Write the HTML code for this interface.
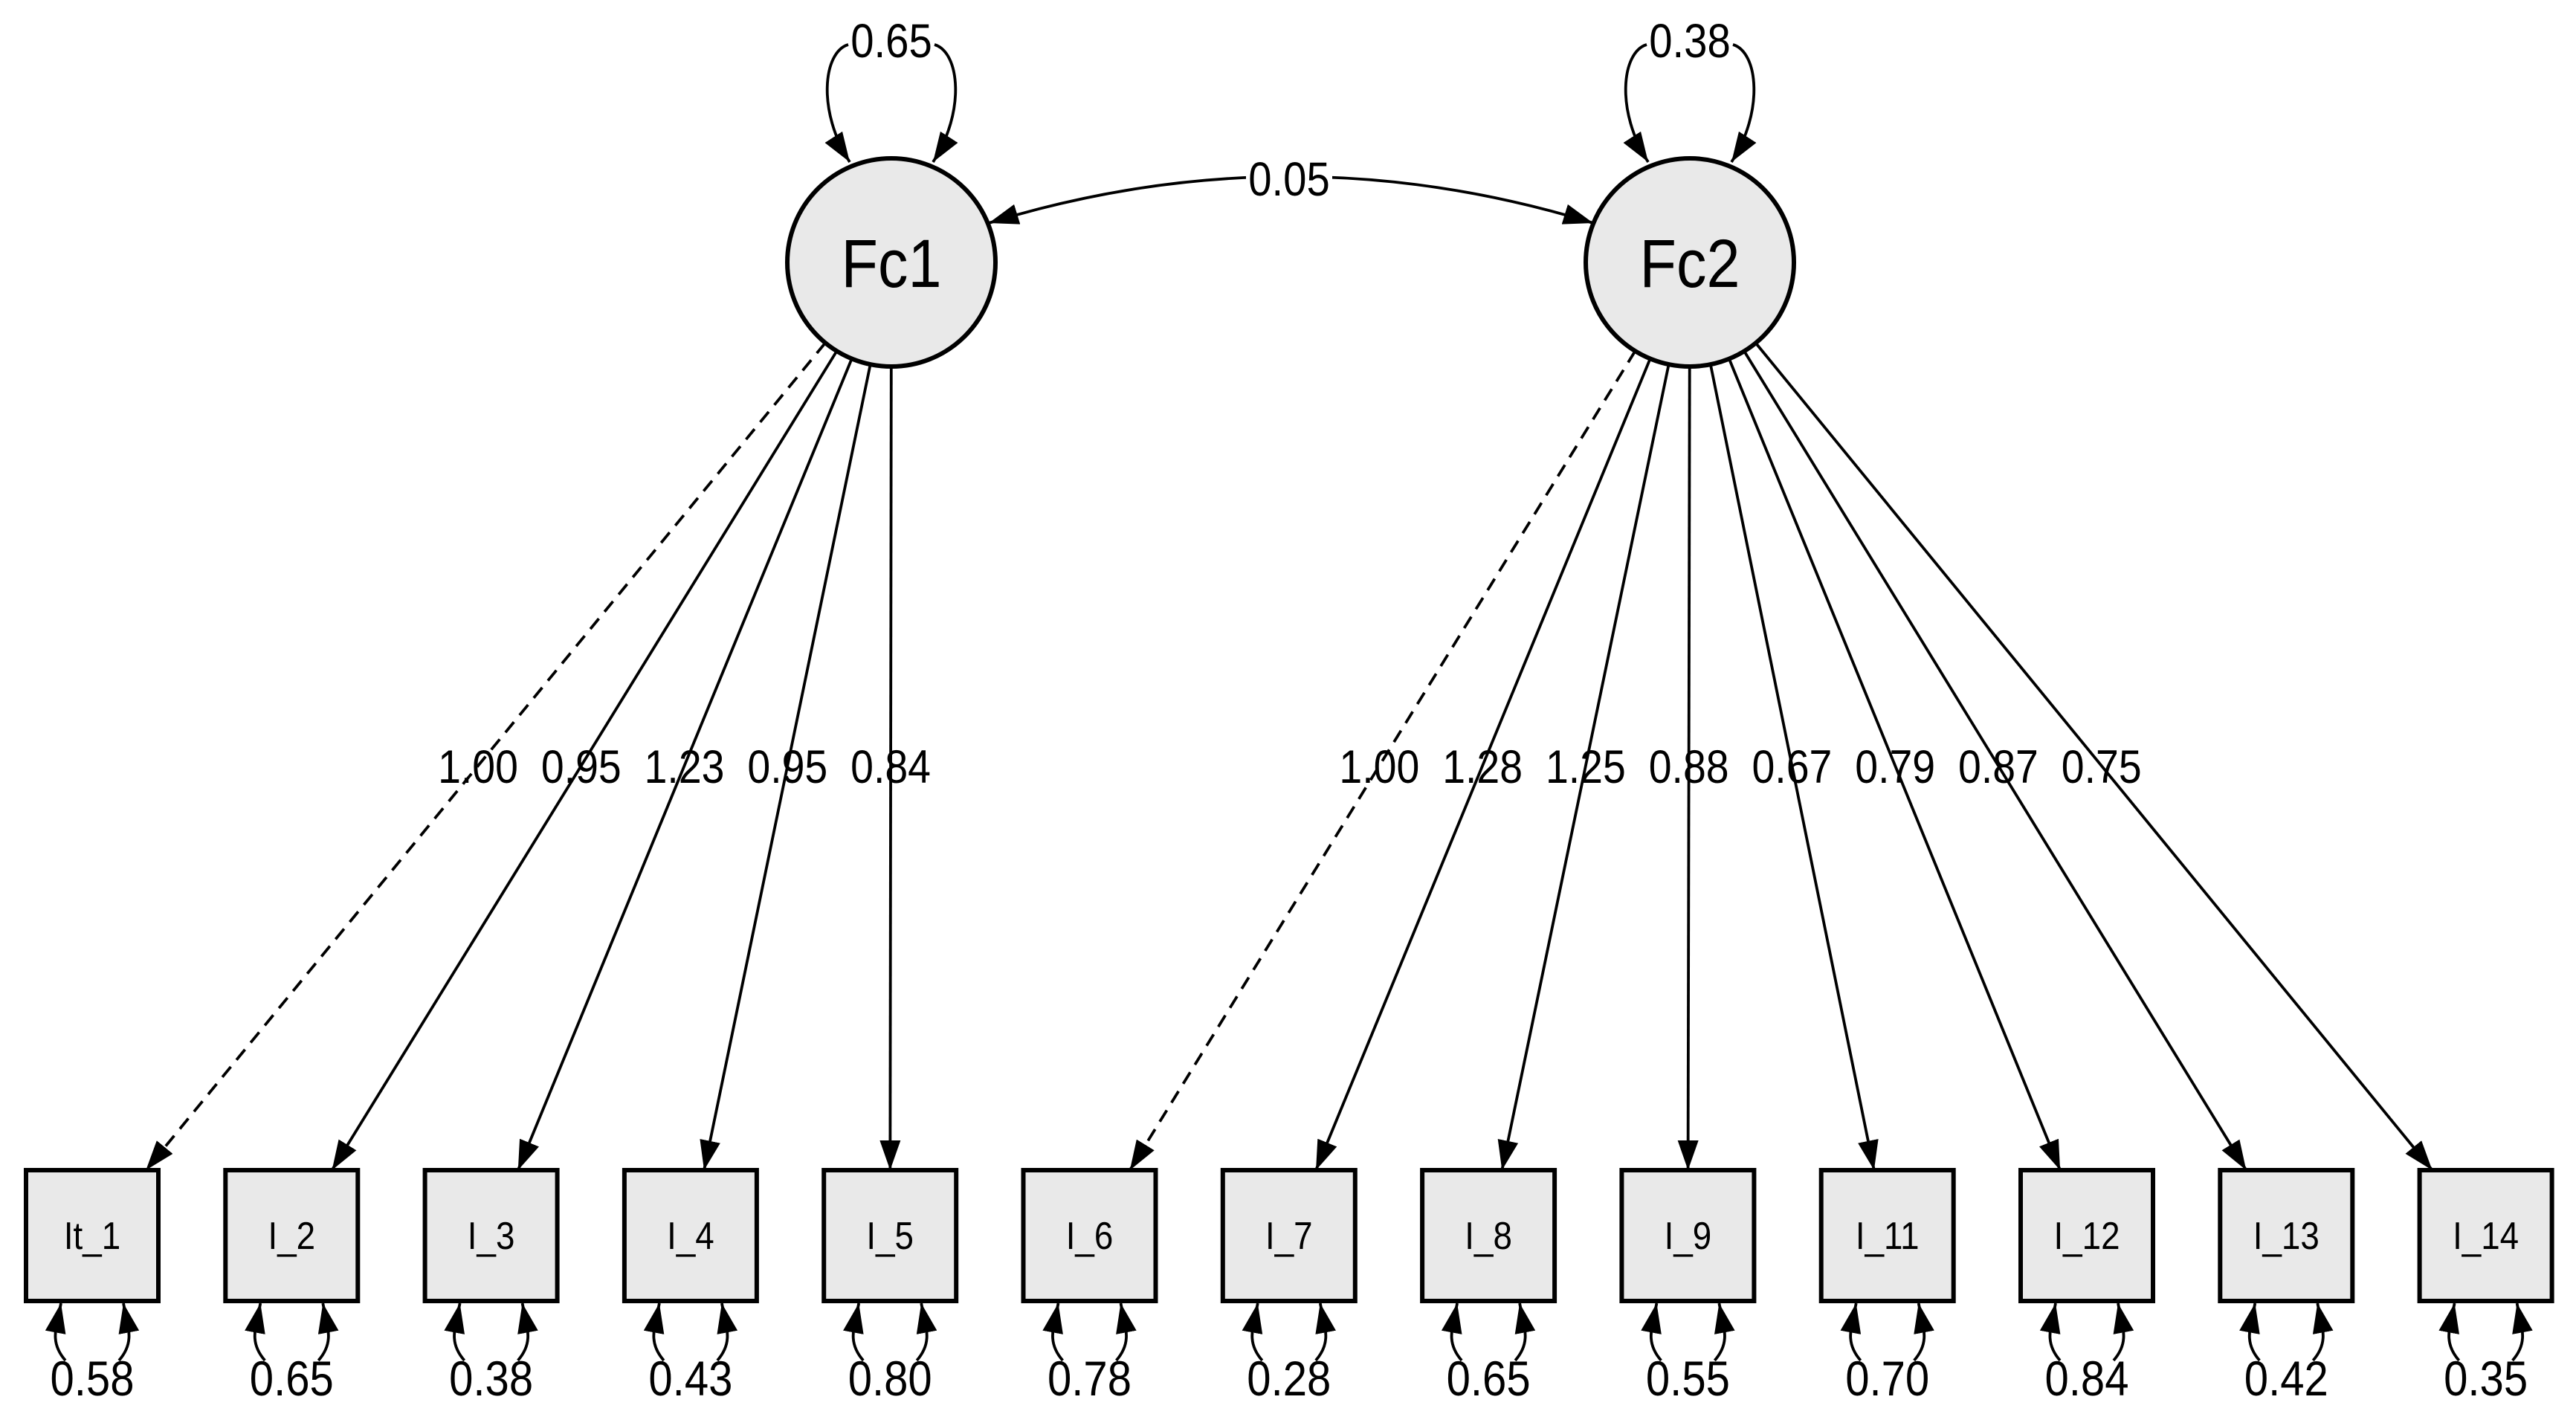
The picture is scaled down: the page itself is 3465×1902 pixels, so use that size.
<!DOCTYPE html>
<html><head><meta charset="utf-8"><style>
html,body{margin:0;padding:0;background:#fff;}
svg{display:block;}
text{font-family:"Liberation Sans",Arial,sans-serif;fill:#000;}
</style></head><body>
<svg id="s" width="3465" height="1902" viewBox="0 0 3465 1902" xmlns="http://www.w3.org/2000/svg">
<defs>
<marker id="a" viewBox="0 0 40 28" refX="40" refY="14" markerWidth="40" markerHeight="28" markerUnits="userSpaceOnUse" orient="auto-start-reverse">
<path d="M0,0 L40,14 L0,28 z" fill="#000"/>
</marker>
</defs>
<g id="g"></g>
</svg>
<script>
var NS="http://www.w3.org/2000/svg",g=document.getElementById('g');
function el(t,a,txt){var e=document.createElementNS(NS,t);for(var k in a)e.setAttribute(k,a[k]);if(txt!==undefined)e.textContent=txt;g.appendChild(e);return e;}
var F=[{x:1199,y:353,n:'Fc1',v:'0.65'},{x:2273,y:353,n:'Fc2',v:'0.38'}],R=140;
var names=['It_1','I_2','I_3','I_4','I_5','I_6','I_7','I_8','I_9','I_11','I_12','I_13','I_14'];
var vars=['0.58','0.65','0.38','0.43','0.80','0.78','0.28','0.65','0.55','0.70','0.84','0.42','0.35'];
var loads=['1.00','0.95','1.23','0.95','0.84','1.00','1.28','1.25','0.88','0.67','0.79','0.87','0.75'];
var BT=1574,BB=1750,BH=176,BW=178,BY=(BT+BB)/2,SW=3.8;
var cx=[];for(var i=0;i<13;i++)cx.push(124+i*268.3);
function txt(x,y,s,str){var e=el('text',{x:0,y:0,'font-size':s,'text-anchor':'middle',transform:'translate('+x+','+y+') scale(0.88,1)'},str);return e;}
for(var i=0;i<13;i++){
 var f=i<5?F[0]:F[1],bx=cx[i];
 var dx=bx-f.x,dy=BY-f.y,L=Math.sqrt(dx*dx+dy*dy);
 var sx=f.x+dx/L*R,sy=f.y+dy/L*R;
 var t=(BT-f.y)/dy,ex=f.x+dx*t,ey=BT;
 var a={x1:sx,y1:sy,x2:ex,y2:ey,stroke:'#000','stroke-width':SW,'marker-end':'url(#a)'};
 if(i==0||i==5)a['stroke-dasharray']='18,12';
 el('line',a);
 var tl=(1030-f.y)/dy,lx=f.x+dx*tl;
 txt(lx,1053,63,loads[i]);
}
for(var i=0;i<13;i++){
 var x=cx[i];
 el('rect',{x:x-BW/2,y:BT,width:BW,height:BH,fill:'#e9e9e9',stroke:'#000','stroke-width':6});
 txt(x,BY+18,52,names[i]);
 el('path',{d:'M'+(x-36)+',1830 C'+(x-58)+',1805 '+(x-48)+',1785 '+(x-42)+','+(BB+3),fill:'none',stroke:'#000','stroke-width':SW,'marker-end':'url(#a)'});
 el('path',{d:'M'+(x+36)+',1830 C'+(x+58)+',1805 '+(x+48)+',1785 '+(x+42)+','+(BB+3),fill:'none',stroke:'#000','stroke-width':SW,'marker-end':'url(#a)'});
 txt(x,1877,66,vars[i]);
}
el('path',{d:'M1330,300 Q1736,175 2143,300',fill:'none',stroke:'#000','stroke-width':SW,'marker-start':'url(#a)','marker-end':'url(#a)'});
el('rect',{x:1676,y:212,width:116,height:56,fill:'#fff'});
txt(1734,263,64,'0.05');
for(var j=0;j<2;j++){
 var f=F[j],x=f.x;
 el('path',{d:'M'+(x-56)+',218 C'+(x-100)+',150 '+(x-92)+',70 '+(x-58)+',60',fill:'none',stroke:'#000','stroke-width':SW,'marker-start':'url(#a)'});
 el('path',{d:'M'+(x+56)+',218 C'+(x+100)+',150 '+(x+92)+',70 '+(x+58)+',60',fill:'none',stroke:'#000','stroke-width':SW,'marker-start':'url(#a)'});
 txt(x,77,64,f.v);
 el('circle',{cx:x,cy:f.y,r:R,fill:'#e9e9e9',stroke:'#000','stroke-width':6});
 txt(x,f.y+33,92,f.n);
}
</script>
</body></html>
